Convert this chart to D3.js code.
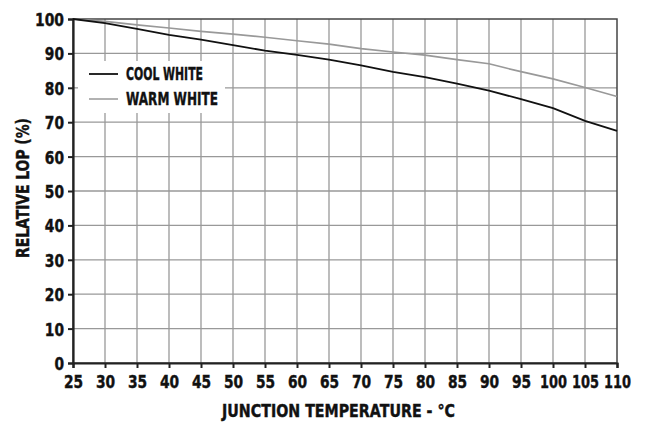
<!DOCTYPE html>
<html>
<head>
<meta charset="utf-8">
<script src="https://cdn.jsdelivr.net/npm/d3@7"></script>
<style>
  body { margin: 0; background: #fff; }
  svg text { font-family: "DejaVu Sans", sans-serif; font-weight: bold; fill: #111; stroke: #111; stroke-width: 0.45px; }
</style>
</head>
<body>
<svg id="chart" width="651" height="426"></svg>
<script>
// Junction temperature (°C) and relative light output (%)
const temperatures = [25, 30, 35, 40, 45, 50, 55, 60, 65, 70, 75, 80, 85, 87.5, 90, 95, 100, 105, 110];
const coolWhite   = [100, 98.8, 97.1, 95.4, 94.0, 92.4, 90.8, 89.6, 88.2, 86.5, 84.6, 83.1, 81.2, 80.2, 79.2, 76.7, 74.1, 70.4, 67.5];
const warmTemps   = [25, 30, 35, 40, 45, 50, 55, 60, 65, 70, 75, 80, 85, 90, 92.5, 95, 100, 105, 110];
const warmWhite   = [100, 99.3, 98.3, 97.4, 96.4, 95.6, 94.7, 93.7, 92.7, 91.4, 90.4, 89.5, 88.2, 87.0, 85.8, 84.7, 82.6, 80.1, 77.5];
const xTicks = [25, 30, 35, 40, 45, 50, 55, 60, 65, 70, 75, 80, 85, 90, 95, 100, 105, 110];
const yTicks = [0, 10, 20, 30, 40, 50, 60, 70, 80, 90, 100];
const seriesNames = ["COOL WHITE", "WARM WHITE"];

const svg = d3.select("#chart");
const m = { left: 73, right: 617, top: 19, bottom: 363 };

const x = d3.scaleLinear().domain([25, 110]).range([m.left, m.right]);
const y = d3.scaleLinear().domain([0, 100]).range([m.bottom, m.top]);

// squeeze text horizontally around its anchor point to a given width (condensed look)
function condenseTo(sel, widthFn) {
  sel.each(function () {
    const k = widthFn(this.textContent) / this.getComputedTextLength();
    const ax = +this.getAttribute("x") || 0;
    const t = this.getAttribute("transform") || "";
    this.setAttribute("transform", `${t} translate(${ax},0) scale(${k},1) translate(${-ax},0)`);
  });
}
const xLabelWidth = s => s.length === 3 ? 27 : s.length * 9.6;
const yLabelWidth = s => s.length === 3 ? 29 : s.length * 9.6;

// grid
svg.append("g").selectAll("line").data(xTicks.slice(1, -1)).join("line")
  .attr("x1", d => x(d)).attr("x2", d => x(d))
  .attr("y1", m.top).attr("y2", m.bottom)
  .attr("stroke", "#999").attr("stroke-width", 1.3);
svg.append("g").selectAll("line").data(yTicks.slice(1, -1)).join("line")
  .attr("y1", d => y(d)).attr("y2", d => y(d))
  .attr("x1", m.left).attr("x2", m.right)
  .attr("stroke", "#999").attr("stroke-width", 1.3);

// frame
svg.append("rect")
  .attr("x", m.left).attr("y", m.top)
  .attr("width", m.right - m.left).attr("height", m.bottom - m.top)
  .attr("fill", "none").attr("stroke", "#444").attr("stroke-width", 1.5);

// axes
const xAxis = svg.append("g").attr("transform", `translate(0,${m.bottom})`)
  .call(d3.axisBottom(x).tickValues(xTicks).tickSize(5).tickPadding(7).tickFormat(d3.format("d")));
const yAxis = svg.append("g").attr("transform", `translate(${m.left},0)`)
  .call(d3.axisLeft(y).tickValues(yTicks).tickSize(5).tickPadding(4).tickFormat(d3.format("d")));
[xAxis, yAxis].forEach(g => {
  g.select(".domain").attr("stroke", "#222").attr("stroke-width", 2.2);
  g.selectAll(".tick line").attr("stroke", "#222").attr("stroke-width", 2);
  g.selectAll(".tick text").attr("font-size", 18).attr("fill", "#111");
});
xAxis.selectAll(".tick text").attr("dy", "0.71em");
yAxis.selectAll(".tick text").attr("dy", "0.36em");
condenseTo(xAxis.selectAll(".tick text"), xLabelWidth);
condenseTo(yAxis.selectAll(".tick text"), yLabelWidth);

// legend
const lg = svg.append("g");
lg.append("rect").attr("x", 78).attr("y", 61).attr("width", 147).attr("height", 52).attr("fill", "#fff");
const legendColors = ["#111", "#999"];
const legendWidths = [77, 92];
seriesNames.forEach((name, i) => {
  const ly = 74 + i * 25;
  lg.append("line").attr("x1", 89).attr("x2", 118).attr("y1", ly).attr("y2", ly)
    .attr("stroke", legendColors[i]).attr("stroke-width", i === 0 ? 1.8 : 1.5);
  lg.append("text").attr("x", 126).attr("y", ly).attr("dy", "0.36em")
    .attr("font-size", 17).text(name).call(condenseTo, () => legendWidths[i]);
});

// curves
const line = (xs) => d3.line().x((d, i) => x(xs[i])).y(d => y(d));
svg.append("path").datum(warmWhite).attr("d", line(warmTemps))
  .attr("fill", "none").attr("stroke", "#999").attr("stroke-width", 1.6);
svg.append("path").datum(coolWhite).attr("d", line(temperatures))
  .attr("fill", "none").attr("stroke", "#111").attr("stroke-width", 1.8);

// titles
svg.append("text").attr("x", 338.5).attr("y", 417).attr("text-anchor", "middle")
  .attr("font-size", 18).text("JUNCTION TEMPERATURE - °C").call(condenseTo, () => 233);
svg.append("text").attr("transform", "translate(29,188) rotate(-90)")
  .attr("text-anchor", "middle").attr("font-size", 18).text("RELATIVE LOP (%)").call(condenseTo, () => 140);
</script>
</body>
</html>
